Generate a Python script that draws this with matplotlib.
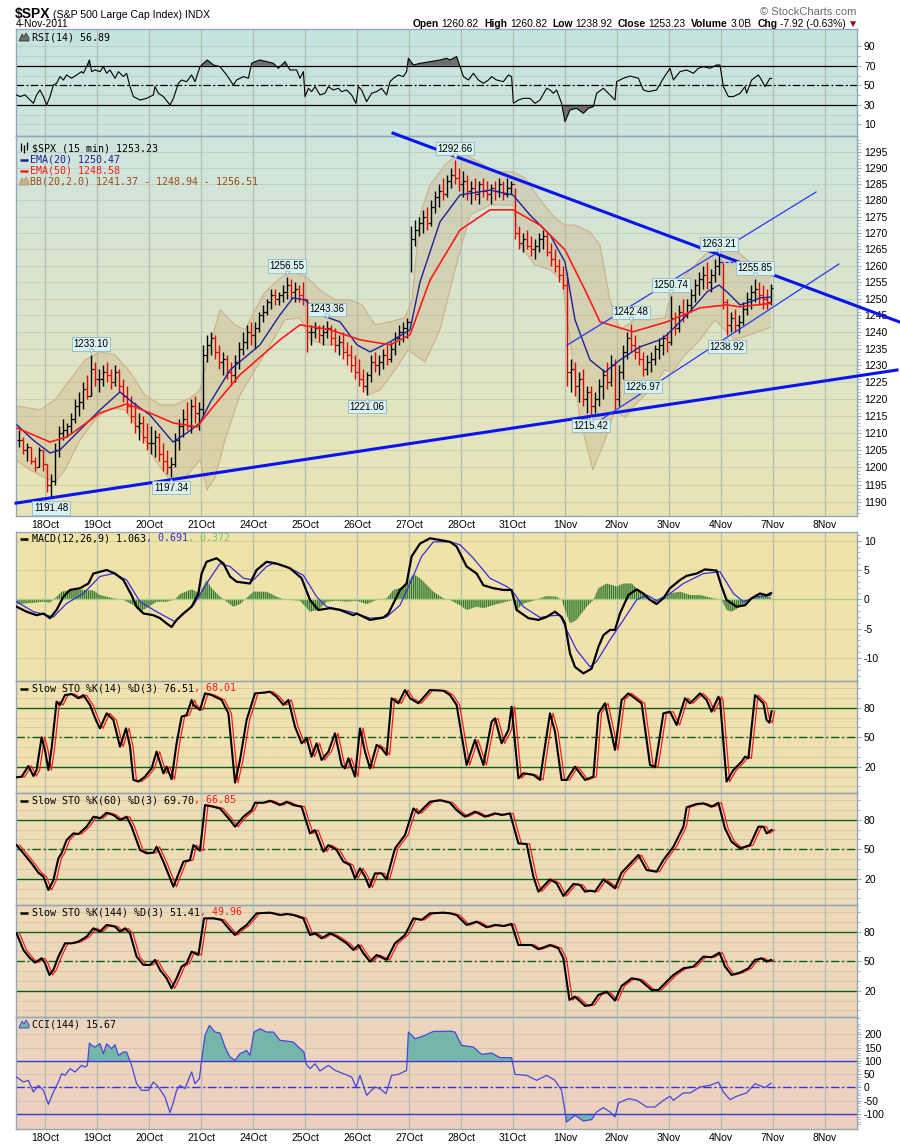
import numpy as np
import matplotlib
matplotlib.use("Agg")
import matplotlib.pyplot as plt
from matplotlib.transforms import offset_copy

W, H = 900, 1148
X0, X1 = 16, 857
SANS = ["Liberation Sans", "DejaVu Sans"]
MONO = ["DejaVu Sans Mono", "DejaVu Sans"]
plt.rcParams["font.family"] = SANS
plt.rcParams["hatch.linewidth"] = 0.8

# time axis = 15-minute bar number; a session is 26 bars
day_labels = ["18Oct", "19Oct", "20Oct", "21Oct", "24Oct", "25Oct", "26Oct", "27Oct",
              "28Oct", "31Oct", "1Nov", "2Nov", "3Nov", "4Nov", "7Nov", "8Nov"]

# ---- $SPX half-hour bars, 17 Oct afternoon .. 4 Nov ----
bar_hi = [
    1211, 1209, 1207, 1206, 1203, 1206, 1205,
    1201, 1198, 1207, 1212, 1214, 1213, 1216, 1220, 1222, 1225, 1227, 1233.10, 1231,
    1229, 1230, 1231, 1229, 1230, 1229, 1226, 1224, 1221, 1219, 1216, 1215, 1213,
    1212, 1211, 1210, 1207, 1205, 1203, 1210, 1214, 1217, 1219, 1220, 1221, 1219,
    1236, 1239, 1240, 1239, 1236, 1234, 1233, 1231, 1233, 1237, 1240, 1242, 1243,
    1243, 1246, 1248, 1250, 1253, 1253, 1252, 1254, 1256.55, 1256, 1255, 1254, 1255,
    1250, 1242, 1243, 1242, 1242, 1243.36, 1242, 1241, 1239, 1240, 1237, 1236, 1233,
    1232, 1229, 1228, 1233, 1234, 1233, 1235, 1236, 1237, 1240, 1242, 1243, 1244,
    1272, 1274, 1275, 1277, 1278, 1280, 1283, 1285, 1287, 1288, 1290, 1292.66, 1290,
    1289, 1288, 1286, 1287, 1286, 1287, 1286, 1285, 1286, 1287, 1286, 1287, 1286,
    1284, 1272, 1270, 1271, 1269, 1268, 1270, 1271, 1270, 1267, 1265, 1262, 1260,
    1258, 1232, 1231, 1228, 1229, 1224, 1224, 1222, 1226, 1229, 1231, 1233, 1232,
    1230, 1236, 1240, 1242.48, 1239, 1236, 1234, 1233, 1234, 1236, 1238, 1239, 1240,
    1250.74, 1246, 1248, 1250, 1250, 1253, 1256, 1258, 1260, 1261, 1259, 1262, 1263.21,
    1260.82, 1250, 1246, 1247, 1245, 1249, 1252, 1254, 1255.85, 1255, 1254, 1253, 1254.5,
]
bar_lo = [
    1206, 1204, 1202, 1201, 1199, 1200, 1199,
    1193, 1191.48, 1195, 1203, 1208, 1209, 1210, 1213, 1215, 1217, 1220, 1221, 1224,
    1222, 1224, 1225, 1223, 1224, 1222, 1219, 1216, 1213, 1210, 1208, 1207, 1205,
    1204, 1203, 1202, 1199, 1198, 1197.34, 1200, 1205, 1209, 1211, 1210, 1213, 1211,
    1215, 1231, 1233, 1232, 1229, 1227, 1226, 1224, 1225, 1229, 1233, 1235, 1236,
    1235, 1240, 1243, 1245, 1247, 1248, 1248, 1249, 1250, 1250, 1249, 1249, 1248,
    1234, 1236, 1238, 1237, 1236, 1238, 1236, 1234, 1233, 1232, 1230, 1228, 1226,
    1224, 1222, 1221.06, 1225, 1228, 1227, 1229, 1230, 1231, 1233, 1236, 1237, 1238,
    1258, 1266, 1269, 1270, 1271, 1272, 1276, 1278, 1280, 1281, 1284, 1285, 1283,
    1281, 1280, 1279, 1280, 1279, 1281, 1280, 1279, 1280, 1281, 1280, 1281, 1282,
    1268, 1265, 1264, 1265, 1263, 1262, 1264, 1265, 1263, 1260, 1258, 1255, 1253,
    1224, 1222, 1221, 1219, 1218, 1216, 1215.42, 1216, 1218, 1220, 1223, 1224, 1217,
    1218, 1226, 1232, 1234, 1232, 1230, 1226.97, 1227, 1228, 1230, 1232, 1233, 1234,
    1236, 1239, 1240, 1243, 1244, 1246, 1249, 1251, 1253, 1253, 1252, 1255, 1257,
    1247, 1238.92, 1240, 1240, 1239.5, 1242, 1245, 1247, 1249, 1248, 1247, 1247, 1248,
]
bar_close = [
    1208, 1205, 1206, 1202, 1200, 1205, 1201,
    1195, 1196, 1205, 1210, 1211, 1212, 1214, 1218, 1219, 1223, 1221, 1229, 1226,
    1226, 1228, 1227, 1225, 1228, 1224, 1221, 1218, 1215, 1212, 1213, 1209, 1207,
    1207, 1209, 1204, 1202, 1200, 1201, 1208, 1212, 1214, 1212, 1218, 1216, 1217,
    1233, 1236, 1238, 1234, 1231, 1232, 1228, 1227, 1231, 1235, 1237, 1240, 1239,
    1241, 1245, 1246, 1249, 1251, 1250, 1251, 1252, 1254, 1252, 1253, 1251, 1250,
    1240, 1240, 1241, 1239, 1240, 1241, 1238, 1236, 1237, 1234, 1233, 1230, 1228,
    1226, 1224, 1227, 1231, 1230, 1231, 1233, 1232, 1235, 1238, 1240, 1241, 1243,
    1268, 1271, 1273, 1275, 1273, 1278, 1281, 1283, 1282, 1286, 1288, 1287, 1285,
    1286, 1283, 1284, 1282, 1285, 1283, 1282, 1284, 1283, 1285, 1282, 1284, 1285,
    1270, 1267, 1268, 1266, 1265, 1266, 1268, 1269, 1264, 1262, 1260, 1257, 1254,
    1228, 1229, 1224, 1226, 1220, 1222, 1218, 1220, 1224, 1227, 1225, 1230, 1220,
    1228, 1234, 1238, 1236, 1234, 1232, 1229, 1231, 1232, 1235, 1236, 1238, 1237,
    1244, 1241, 1246, 1245, 1248, 1251, 1254, 1256, 1257, 1255, 1257, 1260, 1261,
    1249, 1242, 1244, 1242, 1243, 1247, 1250, 1252, 1253, 1251, 1250, 1249, 1253.23,
]
peak_labels = [1233.10, 1256.55, 1243.36, 1292.66, 1242.48, 1250.74, 1263.21, 1255.85]
trough_labels = [1191.48, 1197.34, 1221.06, 1215.42, 1226.97, 1238.92]

# overlays: (bar number, price)
ema20 = [(0.5, 1212.4), (8.5, 1208.0), (17, 1204.2), (22, 1205.1), (28.5, 1208.9), (35.5, 1213.0),
         (42, 1216.8), (52, 1222.1), (58.5, 1218.9), (67, 1215.3), (78.5, 1207.4), (85.5, 1210.1),
         (92, 1213.0), (97, 1218.9), (107, 1228.6), (122, 1236.1), (132, 1245.1), (138.5, 1250.2),
         (144.5, 1249.6), (152, 1245.1), (162, 1243.0), (170.5, 1236.1), (177, 1234.0), (187, 1237.0),
         (197, 1240.6), (202, 1255.0), (212, 1273.4), (222, 1281.7), (237, 1283.2), (248.5, 1281.7),
         (257, 1275.5), (267, 1269.4), (274.5, 1261.1), (279.5, 1243.6), (287, 1231.6), (294.5, 1228.0),
         (302, 1231.6), (312, 1235.5), (322, 1237.6), (325.5, 1239.1), (335.5, 1245.1), (345.5, 1252.0),
         (351.5, 1254.1), (355.5, 1252.0), (362, 1248.1), (367, 1249.0), (372, 1250.2), (377.5, 1250.47)]
ema50 = [(0.5, 1211.5), (17, 1207.4), (25.5, 1208.9), (42, 1215.9), (55.5, 1218.6), (67, 1215.9),
         (78.5, 1213.0), (90.5, 1211.8), (98.5, 1217.7), (112, 1227.2), (132, 1237.6), (142, 1242.1),
         (157, 1240.6), (172, 1237.6), (187, 1236.1), (197, 1239.1), (207, 1255.6), (222, 1270.9),
         (237, 1277.1), (248.5, 1277.1), (262, 1272.4), (274.5, 1264.8), (284.5, 1252.6), (292, 1243.0),
         (308.5, 1240.0), (325.5, 1243.0), (342, 1247.2), (355.5, 1248.1), (362, 1247.5), (377.5, 1248.58)]
bb_upper = [(0, 1218.0), (12, 1216.8), (19.5, 1219.8), (27, 1225.7), (34.5, 1231.6), (42, 1234.0),
            (49.5, 1233.1), (57, 1228.0), (64.5, 1221.2), (72, 1218.3), (79.5, 1218.3), (87, 1220.3),
            (92, 1222.7), (97, 1236.1), (102, 1246.6), (109.5, 1242.1), (114.5, 1240.6), (119.5, 1246.6),
            (124.5, 1252.0), (132, 1256.2), (137, 1258.1), (144.5, 1256.9), (152, 1252.6), (159.5, 1249.6),
            (167, 1249.6), (173, 1248.1), (179.5, 1242.1), (187, 1243.0), (194.5, 1244.2), (198, 1249.6),
            (202, 1275.5), (207, 1284.8), (214.5, 1291.0), (222, 1295.1), (229.5, 1292.6), (239.5, 1288.9),
            (248.5, 1288.9), (254.5, 1287.0), (262, 1280.2), (269.5, 1274.6), (274.5, 1272.4), (279.5, 1272.4),
            (287, 1270.3), (292, 1266.3), (297, 1249.6), (302, 1240.6), (309.5, 1243.6), (317, 1243.6),
            (324.5, 1244.2), (328, 1252.6), (337, 1258.7), (344.5, 1263.3), (352, 1266.3), (359.5, 1264.8),
            (367, 1261.1), (377.5, 1256.51)]
bb_lower = [(0, 1202.2), (7, 1199.3), (14.5, 1197.0), (19.5, 1195.8), (24.5, 1199.3), (32, 1208.0),
            (39.5, 1213.9), (47, 1217.4), (54.5, 1216.8), (62, 1210.9), (69.5, 1202.2), (77, 1196.4),
            (84.5, 1197.0), (92, 1202.2), (95.5, 1193.5), (99.5, 1197.0), (104.5, 1208.0), (112, 1221.2),
            (119.5, 1228.6), (127, 1236.1), (134.5, 1243.6), (142, 1244.2), (147, 1237.6), (154.5, 1236.1),
            (162, 1236.1), (169.5, 1231.6), (176, 1221.2), (182, 1222.7), (189.5, 1228.6), (196, 1234.6),
            (199.5, 1233.1), (204.5, 1231.0), (212, 1240.6), (219.5, 1258.7), (227, 1275.5), (237, 1278.6),
            (248.5, 1278.6), (252, 1266.3), (259.5, 1260.2), (267, 1258.7), (273, 1255.6), (277, 1237.6),
            (282, 1213.9), (288.5, 1199.3), (294.5, 1208.0), (299.5, 1216.8), (304.5, 1214.5), (309.5, 1218.3),
            (317, 1222.7), (324.5, 1228.6), (328, 1228.0), (334.5, 1233.1), (342, 1237.6), (349.5, 1243.6),
            (354.5, 1240.6), (359.5, 1237.6), (367, 1239.1), (377.5, 1241.37)]

# hand-drawn trend lines: (start bar, start price, end bar, end price)
thick_lines = [(188.5, 1301.0, 442.0, 1242.9), (0.0, 1189.7, 440.5, 1228.6)]
channel_lines = [(275.5, 1236.0, 400.0, 1282.6), (287.0, 1211.8, 411.5, 1260.5)]
resistance = (352.0, 378.5, 1261.0)

# ---- indicators: (bar number, value) ----
rsi = [(0.3, 40.1), (2, 38.4), (4.5, 40.1), (8.7, 31.5), (10.3, 40.1), (12, 45.2), (13.7, 38.4), (15.3, 29.8),
       (17, 38.4), (18.7, 50.3), (20.3, 52.0), (22, 58.9), (23.7, 55.4), (25.3, 60.6), (27.8, 57.2), (30.3, 60.6),
       (32.8, 64.0), (33.7, 62.3), (35.3, 69.1), (36.7, 75.9), (37.8, 64.0), (39.5, 65.7), (42, 64.0), (43.7, 69.1),
       (45.3, 62.3), (47, 65.7), (49.5, 57.2), (51.2, 64.0), (53.7, 58.9), (55.3, 62.3), (57, 48.6), (58.7, 38.4),
       (62, 34.9), (65.3, 36.6), (68.7, 40.1), (69.5, 48.6), (71.2, 41.8), (73.7, 38.4), (77, 29.8), (78.7, 36.6),
       (81.2, 52.0), (82.8, 55.4), (85.3, 53.7), (87.8, 60.6), (89.5, 53.7), (92, 69.1), (93.7, 72.5), (95.7, 75.9),
       (98.7, 70.8), (102, 69.1), (105.3, 60.6), (108.7, 50.3), (110.3, 55.4), (112, 57.2), (113.7, 58.9),
       (116.2, 57.2), (117.8, 72.5), (119.5, 74.2), (122, 75.9), (125.3, 74.2), (128.7, 72.5), (131.2, 67.4),
       (134.5, 74.2), (137, 65.7), (140.3, 65.7), (142, 57.2), (143.7, 64.0), (144.5, 38.4), (146.2, 46.9),
       (147.8, 43.5), (149.5, 48.6), (152, 40.1), (154.5, 41.8), (156.2, 48.6), (158.7, 45.2), (161.2, 46.9),
       (162.8, 43.5), (165.3, 45.2), (167.8, 40.1), (170, 31.5), (171.2, 48.6), (172.8, 45.2), (175.3, 33.2),
       (177.8, 41.8), (180.3, 43.5), (182.8, 46.9), (185.3, 40.1), (187, 53.7), (188.7, 57.2), (191.2, 60.6),
       (193.7, 58.9), (195.3, 64.0), (196.2, 77.7), (198.7, 70.8), (202, 72.5), (207, 74.2), (212, 75.9),
       (215.3, 77.7), (217, 75.9), (218.7, 77.7), (220.3, 79.4), (222, 69.1), (223.7, 58.9), (226.2, 55.4),
       (228.7, 62.3), (231.2, 55.4), (233.7, 52.0), (236.2, 55.4), (237.8, 58.9), (240.3, 55.4), (243.7, 53.7),
       (246.2, 60.6), (247.8, 58.9), (248.7, 31.5), (251.2, 34.9), (253.7, 36.6), (257, 36.6), (259.5, 31.5),
       (262, 34.9), (265.3, 46.9), (267, 45.2), (268.7, 41.8), (270.3, 45.2), (272.8, 31.5), (274.5, 12.7),
       (277, 24.7), (280.3, 26.4), (283.7, 21.3), (286.2, 26.4), (288.7, 28.1), (290.3, 41.8), (293.7, 46.9),
       (297, 40.1), (299.5, 34.9), (300.3, 53.7), (303.7, 57.2), (307, 59.5), (311.2, 57.2), (313.7, 45.2),
       (316.2, 43.5), (320.3, 45.2), (323.7, 57.2), (327, 67.4), (328.7, 55.4), (332, 64.0), (335.3, 65.7),
       (338.7, 62.3), (341.2, 67.4), (343.7, 69.1), (347, 67.4), (350.3, 70.8), (352, 70.8), (353.7, 48.6),
       (356.2, 38.4), (358.7, 38.4), (362, 41.8), (364.5, 48.6), (365.3, 41.8), (367.8, 55.4), (371.2, 60.6),
       (372.8, 55.4), (374.5, 48.6), (377, 57.2), (377.8, 56.89)]

macd = [(0.3, -1.25), (5.3, -2.1), (10.3, -2.7), (13.7, -2.4), (17, -3.2), (20.3, -1.8), (23.7, 0.45), (27, 1.6),
        (32, 1.9), (36.2, 2.7), (38.7, 4.4), (42, 4.7), (45.3, 5.0), (49.5, 4.4), (53.7, 3.3), (57.8, 0.7),
        (60.3, -1.25), (63.7, -2.4), (68.7, -2.7), (72, -3.2), (75.3, -4.1), (77.8, -4.7), (80.3, -3.5),
        (83.7, -2.4), (87.8, -1.25), (91.2, 1.0), (92.8, 4.4), (95.3, 6.4), (100.3, 7.0), (103.7, 6.1), (107, 3.9),
        (110.3, 3.0), (117, 2.7), (120.3, 5.0), (125.3, 6.4), (130.3, 6.1), (137, 5.3), (142.8, 3.6), (147, -0.1),
        (151.2, -1.8), (157, -1.5), (162, -1.8), (168.7, -2.7), (170.3, -2.4), (177, -3.5), (183.7, -3.1),
        (186.2, -2.4), (192, 1.6), (195.3, 2.7), (197.8, 7.3), (202, 9.5), (207, 10.4), (213.7, 10.0), (217, 9.8),
        (220.3, 9.0), (225.3, 5.6), (230.3, 4.4), (233.7, 2.4), (238.7, 1.9), (243.7, 1.6), (247.8, 1.6),
        (250.3, -1.8), (256.2, -3.2), (261.2, -3.5), (265.3, -3.0), (269.5, -2.1), (272.8, -3.0), (274.5, -4.1),
        (277, -9.2), (279.5, -11.5), (283.7, -12.6), (287.8, -11.8), (291.2, -8.1), (293.7, -6.1), (297, -5.2),
        (299.5, -5.2), (302, -2.4), (306.2, 0.75), (310.3, 1.7), (313.7, 1.0), (317, -0.1), (320.3, -0.8),
        (323.7, 0.2), (327, 1.9), (332, 3.3), (335.3, 4.0), (340.3, 4.4), (344.5, 5.1), (350.3, 4.9), (352.8, 2.2),
        (355.3, -0.1), (360.3, -1.25), (364.5, -1.0), (367.8, 0.2), (372, 1.0), (375.3, 0.7), (377.5, 1.063)]
macd_signal = [(0.3, -0.4), (8.7, -2.1), (18.7, -3.0), (25.3, -0.7), (33.7, 1.0), (42, 3.9), (48.7, 4.4),
               (55.3, 3.3), (62, -0.4), (70.3, -2.1), (79.5, -3.8), (88.7, -1.0), (95.3, 2.7), (102, 6.1),
               (107, 5.6), (113.7, 3.6), (118.7, 3.3), (125.3, 5.6), (128.7, 6.1), (135.3, 5.6), (143.7, 4.1),
               (150.3, 0.45), (155.3, -1.25), (167, -2.1), (177, -3.2), (185.3, -3.0), (192, -1.0), (197, 2.7),
               (202.8, 7.3), (208.7, 9.8), (217, 9.8), (222, 9.3), (228.7, 7.0), (237, 3.6), (245.3, 2.2),
               (247.8, 1.6), (253.7, -1.25), (262, -3.1), (267, -2.8), (272, -2.7), (275.3, -5.2), (280.3, -8.6),
               (287, -11.5), (290.3, -10.6), (297, -6.9), (303.7, -3.5), (310.3, -0.1), (315.3, 0.75),
               (320.3, -0.2), (327, 1.0), (333.7, 2.7), (343.7, 4.4), (352, 4.7), (358.7, 1.0), (363.7, -0.4),
               (370.3, 0.45), (377.5, 0.691)]
macd_hist = [(0.3, -0.8), (8.7, -0.57), (13.7, -0.4), (17, -0.57), (19.5, 0.17), (22.8, 1.3), (28.7, 1.7),
             (35.3, 1.6), (38.7, 1.5), (42, 0.74), (48.7, 0.17), (53.7, -0.1), (58.7, -0.97), (62, -2.1),
             (65.3, -1.5), (70.3, -0.4), (75.3, -0.4), (79.5, 0.0), (82, 0.9), (87.8, 1.7), (92, 1.0), (95.3, 3.3),
             (97.8, 1.9), (102, 0.45), (108.7, -1.25), (112, -0.8), (118.7, 1.3), (125.3, 1.3), (130.3, 0.45),
             (133.7, 0.0), (142, -0.23), (147, -2.1), (151.2, -1.8), (155.3, -0.4), (160.3, -0.23), (165.3, -0.4),
             (170.3, -0.23), (175.3, -0.8), (180.3, -0.1), (185.3, 0.17), (188.7, 1.6), (194.5, 2.2), (198.7, 4.3),
             (202, 3.6), (208.7, 1.3), (213.7, 0.17), (217, -0.1), (222, -1.0), (225.3, -1.8), (230.3, -1.25),
             (233.7, -1.5), (240.3, -0.8), (245.3, -0.4), (248.7, -0.1), (250.3, -1.8), (253.7, -0.7),
             (258.7, -0.23), (265.3, 0.57), (270.3, 0.45), (272.8, -0.1), (274.5, -1.8), (277, -4.1), (280.3, -3.5),
             (285.3, -1.25), (288.7, -0.1), (291.2, 1.9), (295.3, 2.7), (300.3, 2.2), (303.7, 2.7), (307.8, 2.7),
             (312, 1.3), (317, -0.1), (320.3, -0.7), (323.7, 0.17), (327, 1.0), (332, 1.3), (337, 0.74),
             (342, 0.74), (348.7, 0.17), (352.8, -0.1), (355.3, -1.8), (357.8, -2.1), (362, -1.25), (365.3, -0.4),
             (368.7, 0.45), (373.7, 0.74), (377.5, 0.372)]

sto14 = [(0.3, 9.3), (2.8, 9.9), (6.2, 20.8), (8.7, 10.6), (10.3, 16.7), (12.8, 50.0), (14.5, 37.1), (16.2, 16.7),
         (17.8, 38.8), (20.3, 86.3), (22, 82.9), (24.5, 93.0), (27.8, 94.1), (31.2, 89.7), (33.7, 93.0), (37, 82.9),
         (40.3, 65.9), (42, 59.1), (45.3, 74.4), (48.7, 67.6), (52, 40.5), (55, 59.1), (57, 40.5), (58.7, 6.6),
         (61.2, 4.9), (64.5, 10.0), (67.8, 18.4), (70.3, 35.4), (73.7, 13.3), (75.3, 20.1), (77.8, 7.3),
         (80.3, 43.9), (82.8, 71.0), (85.3, 72.7), (87.8, 88.0), (88.7, 82.9), (92, 77.8), (94.5, 94.7),
         (97.8, 93.0), (102.8, 88.0), (106.2, 74.4), (107.8, 40.5), (109.5, 3.9), (112, 26.9), (115.3, 67.6),
         (119.5, 94.7), (123.7, 95.4), (127, 96.4), (130.3, 91.3), (133.7, 82.9), (136.2, 88.0), (139.5, 60.8),
         (142.8, 43.9), (145.3, 49.0), (147.8, 30.3), (150.3, 43.9), (152.8, 26.9), (156.2, 35.4), (159.5, 54.0),
         (162.8, 21.8), (164.5, 18.4), (166.2, 28.6), (169.5, 10.0), (172, 59.1), (174.5, 35.4), (177, 18.4),
         (180.3, 42.2), (182.8, 38.8), (185.3, 32.0), (187.8, 89.7), (191.2, 84.6), (194.5, 98.1), (197, 89.7),
         (201.2, 84.6), (207, 98.1), (213.7, 97.4), (217, 93.0), (220.3, 82.9), (225.3, 21.8), (229.5, 47.3),
         (233.7, 21.8), (237.8, 65.9), (239.5, 69.3), (242.8, 43.9), (246.2, 57.4), (247.8, 81.2), (251.2, 8.3),
         (253.7, 13.4), (258.7, 11.7), (262, 6.6), (263.7, 30.3), (267, 74.4), (269.5, 55.7), (272.8, 6.6),
         (275.3, 6.6), (279.5, 20.1), (284.5, 6.6), (288.7, 10.0), (291.2, 74.4), (294.5, 84.6), (299.5, 37.1),
         (302.8, 88.0), (306.2, 94.7), (312.8, 84.6), (315.3, 47.3), (317, 21.8), (319.5, 19.5), (323.7, 74.4),
         (327, 76.1), (330.3, 62.5), (334.5, 89.7), (337, 84.6), (342, 94.7), (345.3, 88.0), (347.8, 76.1),
         (351.2, 91.3), (352, 88.0), (355.3, 4.9), (358.7, 16.7), (362.8, 25.2), (364.5, 30.3), (366.2, 28.6),
         (369.5, 93.0), (373.7, 84.6), (375.3, 67.6), (376.7, 64.9), (377.8, 76.51)]
sto60 = [(0.3, 54.3), (3.7, 45.9), (7.8, 35.7), (11.2, 26.2), (13.7, 22.1), (16.2, 8.6), (18.7, 18.7), (21.2, 40.8),
         (22.8, 45.9), (25.3, 59.4), (28.7, 66.2), (31.2, 65.5), (35.3, 73.0), (38.7, 83.2), (42, 81.5), (45.3, 87.2),
         (48.7, 84.9), (52, 79.8), (55.3, 83.2), (57.8, 73.0), (62, 49.3), (65.3, 45.9), (68.7, 46.6), (70.3, 52.6),
         (73.7, 37.4), (78.7, 12.0), (83.7, 37.4), (87, 39.1), (88.7, 54.3), (92, 48.6), (94.5, 95.0), (98.7, 93.3),
         (102, 91.6), (107, 79.8), (109.5, 73.0), (113.7, 83.2), (117.8, 89.9), (119.5, 97.4), (123.7, 97.4),
         (127, 99.4), (132, 95.0), (135.3, 98.4), (138.7, 95.0), (142.8, 93.3), (147, 66.2), (149.5, 69.6),
         (153.7, 47.6), (156.2, 54.3), (160.3, 49.3), (163.7, 37.4), (167, 34.0), (169.5, 20.4), (172, 30.6),
         (174.5, 22.1), (176.7, 11.3), (179.5, 25.5), (182.8, 25.5), (185.3, 19.4), (189.5, 50.9), (194.5, 64.5),
         (198.7, 91.6), (201.2, 86.6), (207, 98.4), (212, 100.0), (217, 97.4), (220.3, 89.9), (224.5, 83.2),
         (229.5, 88.3), (234.5, 83.2), (239.5, 86.6), (242.8, 84.9), (247, 86.6), (251.2, 56.0), (255.3, 55.4),
         (258.7, 22.1), (261.2, 6.9), (267, 19.4), (270.3, 15.4), (273.7, 2.5), (278.7, 14.7), (282, 13.7),
         (284.5, 6.9), (287, 7.9), (289.5, 6.9), (293.7, 19.4), (299.5, 10.3), (302.8, 26.2), (311.2, 44.2),
         (315.3, 28.9), (320.3, 27.2), (323.7, 39.1), (328.7, 52.6), (333.7, 73.0), (335.3, 92.7), (340.3, 96.1),
         (343.7, 96.7), (347.8, 93.3), (351.2, 97.4), (354.5, 71.3), (357.8, 57.7), (362, 50.9), (364.5, 52.6),
         (367, 54.3), (371.2, 73.0), (373.7, 73.0), (375.3, 66.2), (377.8, 69.70)]
sto144 = [(0.3, 78.5), (3.7, 61.5), (7, 53.1), (9.5, 48.7), (12.8, 53.1), (14.5, 48.0), (16.7, 36.1), (18.7, 41.2),
          (21.2, 54.8), (24.5, 68.3), (27.8, 68.3), (31.2, 70.0), (35.3, 75.1), (38.7, 83.6), (42, 80.2), (45.3, 87.0),
          (49.5, 85.3), (52, 80.2), (54.5, 83.6), (57, 78.5), (60.3, 54.8), (63.7, 46.3), (67, 46.3), (69.5, 51.4),
          (72, 41.2), (75.3, 32.7), (77.8, 22.5), (80.3, 32.7), (82.8, 44.6), (85.3, 48.0), (87.8, 59.8),
          (91.2, 56.4), (94, 93.7), (98.7, 93.7), (102.8, 92.1), (107, 81.9), (109.5, 76.8), (112, 81.9),
          (115.3, 87.0), (120.3, 98.8), (127, 99.5), (132, 97.1), (135.3, 98.2), (138.7, 97.1), (143.7, 93.7),
          (147, 76.8), (149.5, 78.5), (152.8, 73.4), (157, 78.5), (160.3, 75.1), (165.3, 68.3), (168.7, 61.5),
          (171.2, 66.6), (173.7, 58.1), (177, 49.7), (180.3, 56.4), (185.3, 51.4), (189.5, 68.3), (194.5, 76.8),
          (198.7, 93.7), (202.8, 92.1), (207, 98.8), (213.7, 99.5), (217, 98.8), (220.3, 97.1), (225.3, 87.0),
          (230.3, 90.4), (235.3, 84.6), (239.5, 87.0), (243.7, 85.9), (247.8, 88.0), (251.2, 66.6), (257.8, 66.6),
          (261.2, 62.2), (267, 66.6), (271.2, 63.2), (273.7, 53.1), (276.7, 10.7), (279.5, 14.1), (284.5, 4.6),
          (287.8, 5.6), (291.2, 15.8), (295.3, 19.1), (299.5, 10.0), (302.8, 24.9), (307.8, 32.7), (312, 31.0),
          (317.8, 20.8), (321.2, 20.8), (325.3, 29.3), (328.7, 36.1), (333.7, 42.9), (338.7, 44.6), (343.7, 54.8),
          (347.8, 54.1), (351.7, 58.8), (354.5, 44.6), (357.8, 36.1), (362, 38.5), (366.2, 42.9), (369.5, 51.4),
          (372.8, 53.1), (375.3, 49.7), (377.5, 51.41)]
cci = [(0.3, 38.9), (3.7, 20.1), (6.2, 26.3), (8.7, -17.6), (11.2, 7.5), (13.7, -11.3), (16.2, -64.0), (18.7, -17.6),
       (21.2, 20.1), (22.8, 51.4), (24.5, 45.2), (27, 70.3), (29.5, 57.7), (32.8, 82.8), (34.5, 76.5), (35.7, 82.8),
       (36.7, 166.9), (37.8, 158.1), (39.5, 151.8), (42, 164.4), (43.7, 126.7), (45.3, 164.4), (47.8, 145.5),
       (49.5, 160.6), (51.2, 120.5), (53.7, 133.0), (55.3, 133.0), (57.8, 82.8), (60.3, 13.8), (62.8, -11.3),
       (66.2, -11.3), (68.7, 20.1), (71.2, 1.3), (74.5, -36.4), (77, -95.4), (78.7, -55.2), (80.3, -11.3),
       (82, 7.5), (84.5, -5.0), (87.8, 57.7), (89.5, 13.8), (91.7, 32.6), (92.8, 101.6), (94.5, 195.7),
       (96.7, 233.4), (99.5, 208.3), (102, 204.5), (104.5, 151.8), (107, 114.2), (109.5, 101.6), (112, 126.7),
       (115.3, 139.3), (117, 120.5), (119, 208.3), (122, 220.8), (125.3, 208.3), (128.7, 208.3), (132, 176.9),
       (135.3, 174.4), (138.7, 170.6), (141.2, 151.8), (144, 133.0), (145, 89.1), (147, 70.3), (149.5, 89.1),
       (152, 61.5), (156.2, 82.8), (159.5, 64.0), (163.7, 51.4), (167.8, 38.9), (170, 1.3), (172, 45.2),
       (175.3, -30.1), (179.5, 1.3), (182, -5.0), (185, -23.8), (187.8, 45.2), (191.2, 48.9), (195.3, 64.0),
       (196.2, 208.3), (199.5, 183.2), (204.5, 195.7), (208.7, 210.8), (213.7, 210.8), (217, 212.0),
       (219.5, 208.3), (222.8, 158.1), (228.7, 151.8), (232.8, 124.2), (237.8, 129.2), (242, 111.7),
       (247.8, 111.7), (249.5, 48.9), (255.3, 45.2), (260.3, 26.3), (265.3, 45.2), (269.5, 26.3), (272.8, -11.3),
       (275.3, -130.5), (279.5, -105.4), (283.7, -126.7), (287.8, -121.7), (290.3, -92.8), (293.7, -76.5),
       (297, -92.8), (299.5, -111.7), (301.2, -59.0), (306.2, -42.7), (310.3, -48.9), (315.3, -74.0),
       (319.5, -74.0), (323.7, -48.9), (327, -33.9), (328.7, -48.9), (333.7, -21.3), (337, -21.3), (342, 1.3),
       (347, 7.5), (351.2, 20.1), (353.7, -17.6), (357, -46.4), (360.3, -33.9), (365.3, -21.3), (369.5, 13.8),
       (374.5, -1.3), (377.5, 15.67)]

# ---------------------------------------------------------------------------
fig = plt.figure(figsize=(W / 100, H / 100), dpi=100)
bg = fig.add_axes([0, 0, 1, 1], zorder=-10)
bg.set_xlim(0, W); bg.set_ylim(H, 0); bg.axis("off")
ov = fig.add_axes([0, 0, 1, 1], zorder=20)
ov.set_xlim(0, W); ov.set_ylim(H, 0); ov.axis("off")

EDGE = "#93A9B8"
VGRID = "#B3BDB0"
HGRID = (0.35, 0.42, 0.35, 0.16)
day_start = 14.5 + 26 * np.arange(len(day_labels))


def shade(top, bottom, c0, c1):
    g = np.linspace(0, 1, 64)[:, None, None]
    img = (np.array(c0)[None, None, :] * (1 - g) + np.array(c1)[None, None, :] * g) / 255.0
    bg.imshow(img, extent=[X0, X1, bottom, top], aspect="auto", interpolation="bilinear")


def panel(top, bottom, c0, c1, ylim, ticks, minor, grid, log=False, labels=None):
    shade(top, bottom, c0, c1)
    ax = fig.add_axes([X0 / W, 1 - bottom / H, (X1 - X0) / W, (bottom - top) / H])
    ax.set_facecolor("none")
    if log:
        ax.set_yscale("log")
    ax.set_xlim(0, 420.5)
    ax.set_ylim(*ylim)
    for s in ax.spines.values():
        s.set_color(EDGE)
        s.set_linewidth(1.0)
    ax.set_yticks(ticks, labels if labels else [str(v) for v in ticks])
    ax.set_yticks(minor, minor=True)
    ax.yaxis.set_minor_formatter(plt.NullFormatter())
    ax.tick_params(axis="y", which="both", left=False, right=True, labelleft=False, labelright=True,
                   direction="out", color=EDGE, labelsize=7.5, pad=2)
    ax.tick_params(axis="y", which="major", length=3, width=0.8)
    ax.tick_params(axis="y", which="minor", length=2, width=0.6)
    ax.set_xticks(day_start, day_labels)
    ax.tick_params(axis="x", length=0, labelbottom=False, labelsize=7.5, pad=3)
    for t in day_start:
        ax.axvline(t, color=VGRID, lw=0.9, zorder=0.5)
    for v in grid:
        ax.axhline(v, color=HGRID, lw=0.7, zorder=0.4)
    return ax


def xy(pts):
    a = np.array(pts, dtype=float)
    return a[:, 0], a[:, 1]


# ---------------- RSI ----------------
ax = panel(29, 136, (198, 228, 224), (205, 229, 220), (-2.0, 107.7), [10, 30, 50, 70, 90],
           [20, 40, 60, 80], range(10, 100, 10))
t, v = xy(rsi)
ax.fill_between(t, v, 70, where=v > 70, interpolate=True, color="#6E6E6E", lw=0, zorder=2)
ax.fill_between(t, v, 30, where=v < 30, interpolate=True, color="#6E6E6E", lw=0, zorder=2)
ax.plot(t, v, color="black", lw=0.8, zorder=3)
for lvl in (70, 30):
    ax.axhline(lvl, color="black", lw=0.9, zorder=2.5)
ax.axhline(50, color="black", lw=0.9, ls=(0, (6, 2, 1.5, 2)), zorder=2.5)

# ---------------- price ----------------
ptick = list(range(1190, 1296, 5))
pminor = [v for v in range(1187, 1301) if v % 5]
ax = panel(136, 516, (207, 229, 221), (233, 228, 182), (1186.0, 1300.1), ptick, pminor, ptick, log=True)
ax.tick_params(axis="x", labelbottom=True)
hi = np.array(bar_hi); lo = np.array(bar_lo); cl = np.array(bar_close)
bt = 1.5 + 2 * np.arange(len(cl))
op = np.r_[cl[0], cl[:-1]]
cols = np.where(cl >= op, "black", "#E00000")

bu_t, bu_v = xy(bb_upper)
bl_t, bl_v = xy(bb_lower)
ax.fill(np.r_[bu_t, bl_t[::-1]], np.r_[bu_v, bl_v[::-1]], color="#C7AC7E", alpha=0.33, lw=0, zorder=1)
ax.plot(bu_t, bu_v, color="#CDB08A", lw=0.8, zorder=1.2)
ax.plot(bl_t, bl_v, color="#CDB08A", lw=0.8, zorder=1.2)

ax.vlines(bt, lo, hi, colors=cols, lw=1.0, zorder=3)
ax.hlines(cl, bt, bt + 0.8, colors=cols, lw=0.9, zorder=3)
ax.hlines(op, bt - 0.8, bt, colors=cols, lw=0.9, zorder=3)

t, v = xy(ema20)
ax.plot(t, v, color="#1F1F9A", lw=1.0, zorder=4)
t, v = xy(ema50)
ax.plot(t, v, color="#FF1A1A", lw=1.2, zorder=4)

for t0, p0, t1, p1 in thick_lines:
    ax.plot([t0, t1], [p0, p1], color="#0A14F0", lw=2.2, clip_on=False, zorder=6)
for t0, p0, t1, p1 in channel_lines:
    ax.plot([t0, t1], [p0, p1], color="#2438F5", lw=0.9, clip_on=False, zorder=6)
ax.plot([resistance[0], resistance[1]], [resistance[2]] * 2, color="#2438F5", lw=0.9, ls=(0, (2.5, 1.5)), zorder=6)

box = dict(boxstyle="square,pad=0.18", fc="#DAF1F1", ec="#93B7C2", lw=0.6)
for val in peak_labels:
    i = int(np.argmin(np.abs(hi - val)))
    ax.annotate(f"{val:.2f}", (bt[i], hi[i]), xytext=(0, 8), textcoords="offset points", ha="center",
                va="center", fontsize=7, bbox=box, zorder=8)
    tri = offset_copy(ax.transData, fig=fig, y=3.0, units="points")
    ax.plot(bt[i], hi[i], marker="v", ms=3.5, mfc="#DAF1F1", mec="#93B7C2", mew=0.5, transform=tri, zorder=8)
for val in trough_labels:
    i = int(np.argmin(np.abs(lo - val)))
    ax.annotate(f"{val:.2f}", (bt[i], lo[i]), xytext=(0, -8), textcoords="offset points", ha="center",
                va="center", fontsize=7, bbox=box, zorder=8)
    tri = offset_copy(ax.transData, fig=fig, y=-3.0, units="points")
    ax.plot(bt[i], lo[i], marker="^", ms=3.5, mfc="#DAF1F1", mec="#93B7C2", mew=0.5, transform=tri, zorder=8)

# ---------------- MACD ----------------
ax = panel(532, 681, (240, 228, 168), (240, 226, 172), (-13.9, 11.47), [-10, -5, 0, 5, 10],
           [v for v in range(-13, 12) if v % 5], [-10, -5, 0, 5, 10])
t, v = xy(macd_hist)
ax.fill_between(t, v, 0, facecolor="#9DC782", edgecolor="#3C6F2A", hatch="|" * 8, lw=0, zorder=2)
ax.axhline(0, color="#A6CF8C", lw=1.0, zorder=2.2)
t, v = xy(macd_signal)
ax.plot(t, v, color="#3A2BE0", lw=0.9, zorder=3)
t, v = xy(macd)
ax.plot(t, v, color="black", lw=1.6, zorder=4)

# ---------------- Slow stochastics ----------------
sto_panels = [(681, 793, (240, 226, 174), (240, 223, 178), sto14),
              (793, 905, (239, 222, 180), (238, 219, 184), sto60),
              (905, 1017, (238, 218, 184), (237, 215, 188), sto144)]
for top, bottom, c0, c1, pts in sto_panels:
    ax = panel(top, bottom, c0, c1, (-6.7, 107.3), [20, 50, 80], [0, 10, 30, 40, 60, 70, 90, 100],
               range(0, 101, 10))
    for lvl in (80, 20):
        ax.axhline(lvl, color="#0B5E1E", lw=1.0, zorder=2)
    ax.axhline(50, color="#0B5E1E", lw=1.0, ls=(0, (6, 2, 1.5, 2)), zorder=2)
    t, v = xy(pts)
    # %D(3) trails %K by about a bar and a half
    ax.plot(t + 1.5, v, color="#FF1A1A", lw=0.9, zorder=3)
    ax.plot(t, v, color="black", lw=1.5, zorder=4)

# ---------------- CCI ----------------
ax = panel(1017, 1129, (237, 214, 190), (236, 208, 192), (-157, 265), [-100, -50, 0, 50, 100, 150, 200],
           [v for v in range(-150, 261, 10) if v % 50], [-100, -50, 0, 50, 100, 150, 200])
ax.tick_params(axis="x", labelbottom=True)
t, v = xy(cci)
ax.fill_between(t, v, 100, where=v > 100, interpolate=True, color="#74B6A7", lw=0, zorder=2)
ax.fill_between(t, v, -100, where=v < -100, interpolate=True, color="#74B6A7", lw=0, zorder=2)
for lvl in (100, -100):
    ax.axhline(lvl, color="#3535D8", lw=1.0, zorder=2.5)
ax.axhline(0, color="#3535D8", lw=1.0, ls=(0, (6, 2, 1.5, 2)), zorder=2.5)
ax.plot(t, v, color="#4646E0", lw=0.9, zorder=3)

# ---------------- titles and legends ----------------
renderer = fig.canvas.get_renderer()


def runs(x, y, parts, size):
    for s, weight, color, gap in parts:
        txt = ov.text(x, y, s, fontsize=size, fontweight=weight, color=color, family=SANS,
                      ha="left", va="baseline")
        x += txt.get_window_extent(renderer=renderer).width + gap


ov.text(15, 18, "$SPX", fontsize=10, fontweight="bold", family=SANS, va="baseline")
ov.text(53, 18, "(S&P 500 Large Cap Index) INDX", fontsize=7.6, family=SANS, va="baseline")
ov.text(16, 27, "4-Nov-2011", fontsize=7.4, family=SANS, va="baseline")
ov.text(856, 15, "\u00a9 StockCharts.com", fontsize=8, color="#6A6A6A", family=SANS, ha="right", va="baseline")
runs(413, 27, [("Open", "bold", "black", 2.5), ("1260.82", "normal", "black", 5.5),
               ("High", "bold", "black", 2.5), ("1260.82", "normal", "black", 5.5),
               ("Low", "bold", "black", 2.5), ("1238.92", "normal", "black", 5.5),
               ("Close", "bold", "black", 2.5), ("1253.23", "normal", "black", 5.5),
               ("Volume", "bold", "black", 2.5), ("3.0B", "normal", "black", 5.5),
               ("Chg", "bold", "black", 2.5), ("-7.92 (-0.63%)", "normal", "black", 2),
               ("\u25bc", "normal", "#990022", 0)], 7.4)

MS = 7.2
CW = 0.602 * MS * 100 / 72     # monospace advance in pixels


def legend(x, y, parts):
    for s, color in parts:
        ov.text(x, y, s, fontsize=MS, color=color, family=MONO, ha="left", va="center")
        x += len(s) * CW


def dash(y, color):
    ov.plot([20, 28], [y, y], color=color, lw=1.8, solid_capstyle="butt")


def mountain(y, face, edge):
    ov.fill([19, 22, 24, 26, 29, 29, 19], [y + 4, y - 3, y, y - 4, y + 1, y + 4, y + 4],
            fc=face, ec=edge, lw=0.6)


mountain(37, "#707070", "#333333")
legend(32, 37, [("RSI(14) 56.89", "black")])

ov.vlines([21, 24, 27], [143, 145, 142], [151, 153, 150], color="black", lw=0.9)
legend(32, 148.5, [("$SPX (15 min) 1253.23", "black")])
dash(159.5, "#1F1F9A")
legend(29.5, 159.5, [("EMA(20) 1250.47", "#1F1F9A")])
dash(170.5, "#FF1A1A")
legend(29.5, 170.5, [("EMA(50) 1248.58", "#FF1A1A")])
mountain(181, "#CBB08C", "#B89A74")
legend(29.5, 181.5, [("BB(20,2.0) 1241.37 - 1248.94 - 1256.51", "#9C4A1A")])

dash(538.5, "black")
legend(31.5, 538.5, [("MACD(12,26,9) 1.063", "black"), (", 0.691", "#3A2BE0"), (", 0.372", "#7CC46A")])
dash(688.5, "black")
legend(31.5, 688.5, [("Slow STO %K(14) %D(3) 76.51", "black"), (", 68.01", "#FF1A1A")])
dash(800.5, "black")
legend(31.5, 800.5, [("Slow STO %K(60) %D(3) 69.70", "black"), (", 66.85", "#FF1A1A")])
dash(912.5, "black")
legend(31.5, 912.5, [("Slow STO %K(144) %D(3) 51.41", "black"), (", 49.96", "#FF1A1A")])
mountain(1024, "#74B6A7", "#3535D8")
legend(31.5, 1024.5, [("CCI(144) 15.67", "black")])

fig.savefig("out.png", dpi=100)
